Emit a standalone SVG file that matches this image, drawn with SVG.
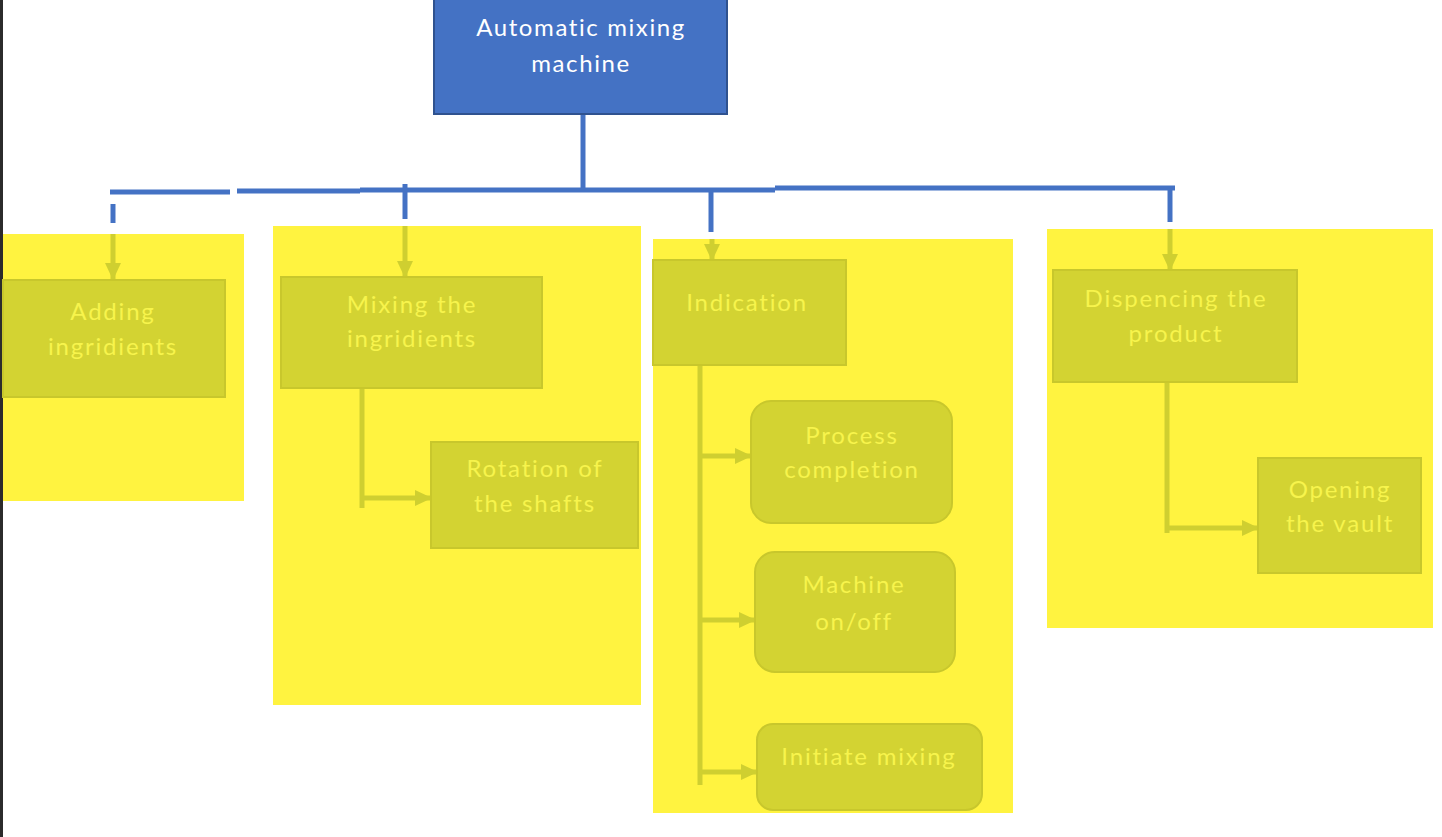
<svg xmlns="http://www.w3.org/2000/svg" width="1442" height="837" viewBox="0 0 1442 837">
<style>
.panel{fill:#FFF340}
.box{fill:#D3D332;stroke:#C8C72C;stroke-width:2}
.t{font-family:Lato,"Open Sans",sans-serif;font-size:24px;letter-spacing:1.8px;fill:#F7F44C;text-anchor:middle}
.tw{font-family:Lato,"Open Sans",sans-serif;font-size:24px;letter-spacing:1.6px;fill:#FFFFFF;text-anchor:middle}
.blue{stroke:#4472C4;stroke-width:5;fill:none}
.ol{stroke:#CFCF30;stroke-width:5;fill:none}
.ola{stroke:#CFCF30;stroke-width:5;fill:none;marker-end:url(#ah)}
</style>
<defs>
<marker id="ah" markerUnits="userSpaceOnUse" markerWidth="18" markerHeight="18" viewBox="0 0 18 18" refX="16" refY="9" orient="auto">
<path d="M0,1 L17,9 L0,17 Z" fill="#CFCF30"/>
</marker>
</defs>
<rect x="0" y="0" width="1442" height="837" fill="#FFFFFF"/>
<rect x="0" y="0" width="3" height="837" fill="#2B2B2B"/>

<g id="panels">
<rect class="panel" x="3" y="234" width="241" height="267"/>
<rect class="panel" x="273" y="226" width="368" height="479"/>
<rect class="panel" x="653" y="239" width="360" height="574"/>
<rect class="panel" x="1047" y="229" width="386" height="399"/>
</g>

<g id="connectors">
<path class="blue" d="M583,114 V188"/>
<path class="blue" d="M110,192 H230 M237,191 H360 M360,190 H775 M775,188 H1175"/>
<path class="blue" d="M113,204 V223"/>
<path class="blue" d="M405,184 V219"/>
<path class="blue" d="M711,190 V232"/>
<path class="blue" d="M1170,187 V222"/>
<path class="ola" d="M113,234 V279"/>
<path class="ola" d="M405,226 V277"/>
<path class="ola" d="M712,239 V260"/>
<path class="ola" d="M1170,229 V270"/>
<path class="ol" d="M362,388 V508"/>
<path class="ola" d="M362,498 H431"/>
<path class="ol" d="M700,365 V785"/>
<path class="ola" d="M700,456 H751"/>
<path class="ola" d="M700,620 H755"/>
<path class="ola" d="M700,772 H757"/>
<path class="ol" d="M1167,382 V533"/>
<path class="ola" d="M1167,528 H1258"/>
</g>

<g id="root">
<rect x="434" y="-2" width="293" height="116" fill="#4472C4" stroke="#2F528F" stroke-width="2"/>
<text class="tw" x="581" y="36">Automatic mixing</text>
<text class="tw" x="581" y="72">machine</text>
</g>

<g id="adding">
<rect class="box" x="3" y="280" width="222" height="117"/>
<text class="t" x="113" y="320">Adding</text>
<text class="t" x="113" y="355">ingridients</text>
</g>

<g id="mixing">
<rect class="box" x="281" y="277" width="261" height="111"/>
<text class="t" x="412" y="313">Mixing the</text>
<text class="t" x="412" y="347">ingridients</text>
</g>

<g id="rotation">
<rect class="box" x="431" y="442" width="207" height="106"/>
<text class="t" x="535" y="477">Rotation of</text>
<text class="t" x="535" y="512">the shafts</text>
</g>

<g id="indication">
<rect class="box" x="653" y="260" width="193" height="105"/>
<text class="t" x="747" y="311">Indication</text>
</g>

<g id="process">
<rect class="box" x="751" y="401" width="201" height="122" rx="20"/>
<text class="t" x="852" y="444">Process</text>
<text class="t" x="852" y="478">completion</text>
</g>

<g id="onoff">
<rect class="box" x="755" y="552" width="200" height="120" rx="20"/>
<text class="t" x="854" y="593">Machine</text>
<text class="t" x="854" y="630">on/off</text>
</g>

<g id="initiate">
<rect class="box" x="757" y="724" width="225" height="86" rx="16"/>
<text class="t" x="869" y="765">Initiate mixing</text>
</g>

<g id="dispencing">
<rect class="box" x="1053" y="270" width="244" height="112"/>
<text class="t" x="1176" y="307">Dispencing the</text>
<text class="t" x="1176" y="342">product</text>
</g>

<g id="opening">
<rect class="box" x="1258" y="458" width="163" height="115"/>
<text class="t" x="1340" y="498">Opening</text>
<text class="t" x="1340" y="532">the vault</text>
</g>
</svg>
